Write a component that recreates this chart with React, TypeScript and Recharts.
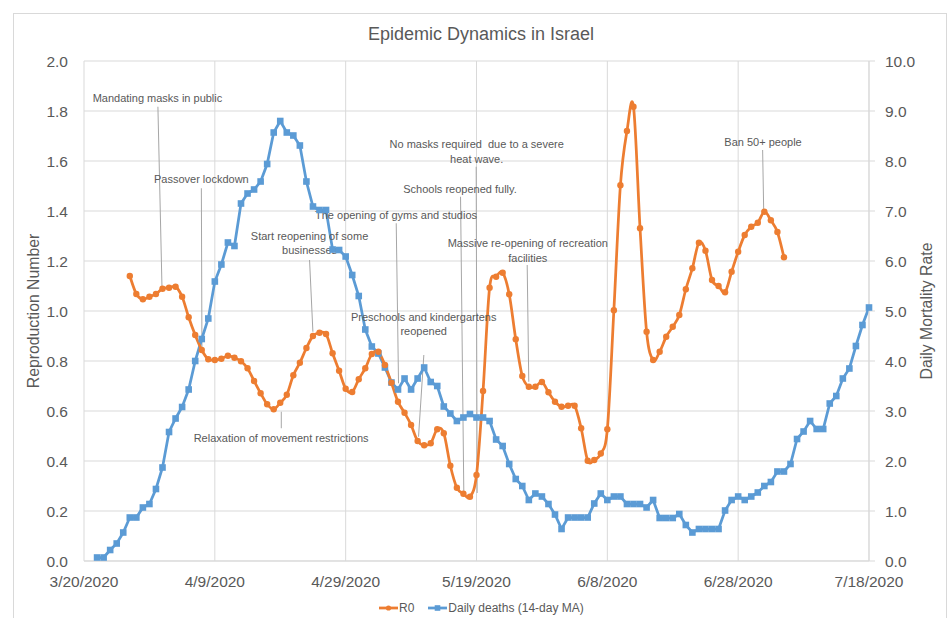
import React from 'react';
import {
  ComposedChart,
  Line,
  XAxis,
  YAxis,
  CartesianGrid,
  Legend,
  ReferenceLine,
  ReferenceDot,
  Customized,
} from 'recharts';

// ---------------- data ----------------
const AXIS_START = '3/20/2020';
const xTickLabels = ['3/20/2020', '4/9/2020', '4/29/2020', '5/19/2020', '6/8/2020', '6/28/2020', '7/18/2020'];

const r0FirstDate = '3/27/2020';
const r0Values = [
  1.14, 1.068, 1.047, 1.057, 1.068, 1.089, 1.093, 1.097, 1.057, 0.975,
  0.904, 0.844, 0.807, 0.804, 0.809, 0.821, 0.813, 0.799, 0.771, 0.72,
  0.671, 0.627, 0.607, 0.633, 0.665, 0.743, 0.793, 0.852, 0.9, 0.913,
  0.908, 0.831, 0.761, 0.689, 0.676, 0.727, 0.771, 0.828, 0.837, 0.784,
  0.713, 0.637, 0.593, 0.544, 0.48, 0.463, 0.471, 0.527, 0.511, 0.381,
  0.293, 0.269, 0.257, 0.344, 0.68, 1.093, 1.137, 1.153, 1.067, 0.887,
  0.74, 0.697, 0.697, 0.716, 0.675, 0.637, 0.617, 0.621, 0.621, 0.531,
  0.401, 0.404, 0.43, 0.527, 1.003, 1.503, 1.72, 1.817, 1.331, 0.917,
  0.804, 0.837, 0.897, 0.937, 0.984, 1.087, 1.171, 1.273, 1.241, 1.124,
  1.1, 1.075, 1.157, 1.237, 1.304, 1.337, 1.353, 1.397, 1.363, 1.316, 1.215,
];

const deathsFirstDate = '3/22/2020';
const deathsValues = [
  0.07, 0.07, 0.22, 0.35, 0.57, 0.87, 0.87, 1.07, 1.14, 1.44,
  1.87, 2.58, 2.85, 3.08, 3.43, 4.0, 4.44, 4.85, 5.59, 5.93,
  6.37, 6.3, 7.15, 7.35, 7.43, 7.59, 7.94, 8.57, 8.8, 8.57,
  8.51, 8.31, 7.59, 7.09, 7.02, 7.02, 6.23, 6.22, 6.09, 5.72,
  5.3, 4.63, 4.29, 4.15, 3.87, 3.57, 3.43, 3.65, 3.43, 3.65,
  3.87, 3.58, 3.5, 3.09, 2.95, 2.8, 2.87, 2.94, 2.87, 2.87,
  2.8, 2.43, 2.3, 1.94, 1.64, 1.5, 1.22, 1.35, 1.29, 1.14,
  0.93, 0.64, 0.87, 0.87, 0.87, 0.87, 1.15, 1.35, 1.22, 1.29,
  1.29, 1.14, 1.14, 1.14, 1.07, 1.22, 0.86, 0.86, 0.86, 0.94,
  0.72, 0.57, 0.64, 0.64, 0.64, 0.64, 1.01, 1.22, 1.29, 1.22,
  1.29, 1.37, 1.5, 1.58, 1.79, 1.79, 1.94, 2.44, 2.59, 2.8,
  2.64, 2.64, 3.15, 3.3, 3.65, 3.85, 4.3, 4.72, 5.07,
];

const leftTicks = [0, 0.2, 0.4, 0.6, 0.8, 1.0, 1.2, 1.4, 1.6, 1.8, 2.0];
const rightTicks = [0, 1, 2, 3, 4, 5, 6, 7, 8, 9, 10];

// annotations: text anchor (day offset, R value) and leader line ends
const annotations = [
  { lines: ['Mandating masks in public'], tx: 11.23, ty: 1.851, x1: 11.3, y1: 1.817, x2: 11.92, y2: 1.096 },
  { lines: ['Passover lockdown'], tx: 17.94, ty: 1.527, x1: 17.94, y1: 1.491, x2: 18.03, y2: 0.852 },
  { lines: ['Relaxation of movement restrictions'], tx: 30.13, ty: 0.492, x1: 30.16, y1: 0.531, x2: 30.16, y2: 0.597 },
  { lines: ['Start reopening of some', 'businesses'], tx: 34.48, ty: 1.301, x1: 34.48, y1: 1.204, x2: 34.99, y2: 0.917 },
  { lines: ['The opening of gyms and studios'], tx: 47.7, ty: 1.384, x1: 47.73, y1: 1.351, x2: 48.08, y2: 0.711 },
  { lines: ['Preschools and kindergartens', 'reopened'], tx: 51.93, ty: 0.977, x1: 51.95, y1: 0.824, x2: 51.14, y2: 0.497 },
  { lines: ['No masks required  due to a severe', 'heat wave.'], tx: 60.03, ty: 1.667, x1: 59.95, y1: 1.577, x2: 60.1, y2: 0.272 },
  { lines: ['Schools reopened fully.'], tx: 57.48, ty: 1.487, x1: 57.56, y1: 1.457, x2: 58.06, y2: 0.277 },
  { lines: ['Massive re-opening of recreation', 'facilities'], tx: 67.84, ty: 1.271, x1: 67.75, y1: 1.184, x2: 67.99, y2: 0.717 },
  { lines: ['Ban 50+ people'], tx: 103.8, ty: 1.677, x1: 103.74, y1: 1.644, x2: 103.9, y2: 1.404 },
];

// ---------------- helpers ----------------
const toUTC = (s: string) => {
  const [m, d, y] = s.split('/').map(Number);
  return Date.UTC(y, m - 1, d);
};
const dayOf = (s: string) => Math.round((toUTC(s) - toUTC(AXIS_START)) / 86400000);

const xTicks = xTickLabels.map(dayOf);
const r0Data = r0Values.map((v, i) => ({ day: dayOf(r0FirstDate) + i, r0: v }));
const deathsData = deathsValues.map((v, i) => ({ day: dayOf(deathsFirstDate) + i, deaths: v }));

const ORANGE = '#ED7D31';
const BLUE = '#5B9BD5';
const GRID = '#D9D9D9';
const TEXT = '#595959';
const FONT = '"Liberation Sans", Arial, sans-serif';

// Excel-like smoothing (Catmull-Rom Bezier)
const excelSmooth: any = (context: any) => {
  let pts: number[][] = [];
  return {
    areaStart() {},
    areaEnd() {},
    lineStart() {
      pts = [];
    },
    lineEnd() {
      const n = pts.length;
      if (!n) return;
      context.moveTo(pts[0][0], pts[0][1]);
      for (let i = 0; i < n - 1; i++) {
        const p0 = pts[Math.max(i - 1, 0)];
        const p1 = pts[i];
        const p2 = pts[i + 1];
        const p3 = pts[Math.min(i + 2, n - 1)];
        context.bezierCurveTo(
          p1[0] + (p2[0] - p0[0]) / 6,
          p1[1] + (p2[1] - p0[1]) / 6,
          p2[0] - (p3[0] - p1[0]) / 6,
          p2[1] - (p3[1] - p1[1]) / 6,
          p2[0],
          p2[1]
        );
      }
    },
    point(x: number, y: number) {
      pts.push([+x, +y]);
    },
  };
};

const OrangeDot = (props: any) => {
  const { cx, cy, index } = props;
  if (cx == null || cy == null) return <g key={`o${index}`} />;
  return <circle key={`o${index}`} cx={cx} cy={cy} r={3.2} fill={ORANGE} />;
};

const BlueDot = (props: any) => {
  const { cx, cy, index } = props;
  if (cx == null || cy == null) return <g key={`b${index}`} />;
  return <rect key={`b${index}`} x={cx - 3.3} y={cy - 3.3} width={6.6} height={6.6} fill={BLUE} />;
};

const Frame = () => (
  <g>
    <rect x={13.5} y={13.5} width={933} height={640} fill="none" stroke={GRID} strokeWidth={1} />
    <text x={481} y={34} textAnchor="middle" dominantBaseline="central" fontSize={18} fill={TEXT} fontFamily={FONT}>
      Epidemic Dynamics in Israel
    </text>
  </g>
);

const renderAnnotation = (lines: string[]) => (props: any) => {
  const vb = props.viewBox || {};
  const cx = (vb.x || 0) + (vb.width || 0) / 2;
  const cy = (vb.y || 0) + (vb.height || 0) / 2;
  return (
    <text x={cx} y={cy} textAnchor="middle" fontSize={11} fill={TEXT} fontFamily={FONT} style={{ whiteSpace: 'pre' }}>
      {lines.map((l, i) => (
        <tspan key={i} x={cx} dy={i === 0 ? '0.35em' : 14.4}>
          {l}
        </tspan>
      ))}
    </text>
  );
};

const LeftTitle = (props: any) => {
  const vb = props.viewBox || {};
  const x = (vb.x || 0) + 33;
  const y = (vb.y || 0) + (vb.height || 0) / 2;
  return (
    <text x={x} y={y} transform={`rotate(-90 ${x} ${y})`} textAnchor="middle" dominantBaseline="central" fontSize={15.8} fill={TEXT} fontFamily={FONT}>
      Reproduction Number
    </text>
  );
};

const RightTitle = (props: any) => {
  const vb = props.viewBox || {};
  const x = (vb.x || 0) + 57.5;
  const y = (vb.y || 0) + (vb.height || 0) / 2;
  return (
    <text x={x} y={y} transform={`rotate(-90 ${x} ${y})`} textAnchor="middle" dominantBaseline="central" fontSize={15.8} fill={TEXT} fontFamily={FONT}>
      Daily Mortality Rate
    </text>
  );
};

const renderLegend = () => (
  <div style={{ display: 'flex', alignItems: 'center', fontSize: 12, color: TEXT, fontFamily: FONT, lineHeight: '14px', whiteSpace: 'nowrap' }}>
    <svg width={19} height={8} style={{ display: 'block' }}>
      <line x1={0} y1={4} x2={19} y2={4} stroke={ORANGE} strokeWidth={2.75} />
      <circle cx={9.5} cy={4} r={2.6} fill={ORANGE} />
    </svg>
    <span style={{ marginLeft: 1 }}>R0</span>
    <svg width={19} height={8} style={{ display: 'block', marginLeft: 14 }}>
      <line x1={0} y1={4} x2={19} y2={4} stroke={BLUE} strokeWidth={2.75} />
      <rect x={6.7} y={1.2} width={5.6} height={5.6} fill={BLUE} />
    </svg>
    <span style={{ marginLeft: 1 }}>Daily deaths (14-day MA)</span>
  </div>
);

export default function App() {
  const tickStyle = { fontSize: 15.5, fill: TEXT, fontFamily: FONT };
  return (
    <div style={{ position: 'absolute', left: 0, top: 0, width: 948, height: 618, background: '#fff' }}>
      <ComposedChart width={948} height={618} margin={{ top: 61, right: 0, bottom: 0, left: 0 }}>
        <Customized component={Frame} />
        <CartesianGrid stroke={GRID} strokeWidth={1} yAxisId="left" vertical horizontal />
        <XAxis
          dataKey="day"
          type="number"
          domain={[0, 120]}
          ticks={xTicks}
          allowDuplicatedCategory={false}
          tickFormatter={(v: number) => xTickLabels[xTicks.indexOf(v)] ?? ''}
          height={57}
          axisLine={{ stroke: GRID }}
          tickLine={false}
          tickSize={6}
          tickMargin={9}
          tick={tickStyle}
          interval={0}
        />
        <YAxis
          yAxisId="left"
          domain={[0, 2]}
          ticks={leftTicks}
          tickFormatter={(v: number) => v.toFixed(1)}
          width={84}
          axisLine={false}
          tickLine={false}
          tickSize={6}
          tickMargin={10}
          tick={tickStyle}
          interval={0}
          label={{ content: LeftTitle }}
        />
        <YAxis
          yAxisId="right"
          orientation="right"
          domain={[0, 10]}
          ticks={rightTicks}
          tickFormatter={(v: number) => v.toFixed(1)}
          width={79}
          axisLine={{ stroke: GRID }}
          tickLine={{ stroke: GRID }}
          tickSize={6}
          tickMargin={10}
          tick={tickStyle}
          interval={0}
          label={{ content: RightTitle }}
        />
        <Legend
          layout="horizontal"
          verticalAlign="middle"
          align="center"
          content={renderLegend}
          wrapperStyle={{ left: 379, top: 601, width: 240 }}
        />
        {annotations.map((a, i) => (
          <ReferenceLine
            key={`al${i}`}
            yAxisId="left"
            segment={[
              { x: a.x1, y: a.y1 },
              { x: a.x2, y: a.y2 },
            ]}
            stroke="#A6A6A6"
            strokeWidth={1}
          />
        ))}
        <Line
          yAxisId="right"
          data={deathsData}
          dataKey="deaths"
          type="linear"
          stroke={BLUE}
          strokeWidth={2.75}
          dot={BlueDot}
          activeDot={false}
          isAnimationActive={false}
          name="Daily deaths (14-day MA)"
        />
        <Line
          yAxisId="left"
          data={r0Data}
          dataKey="r0"
          type={excelSmooth}
          stroke={ORANGE}
          strokeWidth={2.75}
          dot={OrangeDot}
          activeDot={false}
          isAnimationActive={false}
          name="R0"
        />
        {annotations.map((a, i) => (
          <ReferenceDot
            key={`at${i}`}
            yAxisId="left"
            x={a.tx}
            y={a.ty}
            r={0}
            fill="none"
            stroke="none"
            label={{ content: renderAnnotation(a.lines) }}
          />
        ))}
      </ComposedChart>
    </div>
  );
}
